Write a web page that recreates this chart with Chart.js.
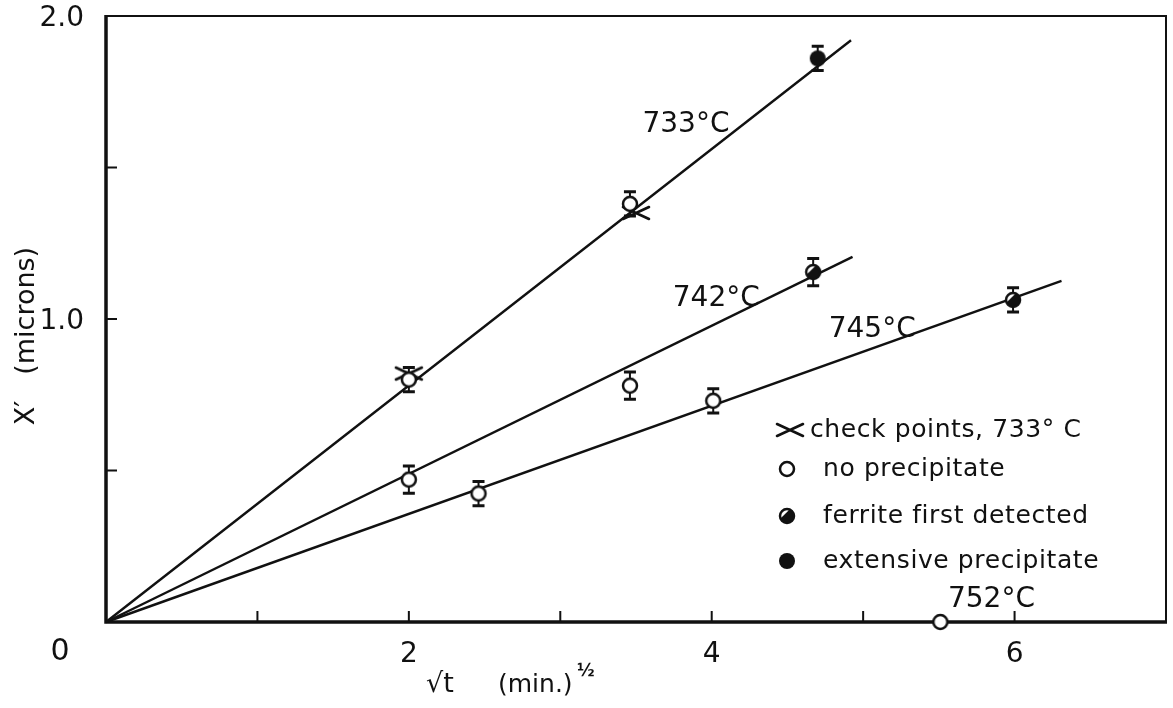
<!DOCTYPE html>
<html>
<head>
<meta charset="utf-8">
<script src="https://cdn.jsdelivr.net/npm/chart.js@4.4.1/dist/chart.umd.min.js"></script>
<style>
  html, body { margin: 0; padding: 0; background: #fff; }
  #wrap { width: 1173px; height: 708px; }
</style>
</head>
<body>
<div id="wrap"><canvas id="growthChart"></canvas></div>
<script>
// x' thickness (microns) against root time, (min)^1/2
const noPrecipX = [2.0, 3.46, 2.0, 3.46, 2.46, 4.01, 5.51];
const noPrecipY = [0.80, 1.38, 0.47, 0.78, 0.424, 0.73, 0.0];
const noPrecipErr = [0.04, 0.04, 0.045, 0.045, 0.04, 0.04, 0];

const ferriteX = [4.67, 5.99];
const ferriteY = [1.155, 1.063];
const ferriteErr = [0.045, 0.04];

const extensiveX = [4.7];
const extensiveY = [1.86];
const extensiveErr = [0.04];

const checkX = [2.0, 3.5];
const checkY = [0.82, 1.35];

// straight lines through the origin, one per temperature
const fitTemps = ['733°C', '742°C', '745°C'];
const fitEndX = [4.92, 4.93, 6.31];
const fitEndY = [1.92, 1.205, 1.126];
const fitLabelX = [3.83, 4.03, 5.06];
const fitLabelY = [1.64, 1.066, 0.964];

const extraLabel = '752°C';
const extraLabelX = 5.56;
const extraLabelY = 0.075;

const yTickValues = [1, 2];
const yTickText = ['1.0', '2.0'];
const xTickValues = [2, 4, 6];
const xTickText = ['2', '4', '6'];

const legendItems = ['check points, 733° C', 'no precipitate', 'ferrite first detected', 'extensive precipitate'];

const INK = '#111';
const FONT = '"DejaVu Sans", "Liberation Sans", sans-serif';

function toPoints(xs, ys) {
    return xs.map((x, i) => ({ x: x, y: ys[i] }));
}

function openCircleIcon(r) {
    const c = document.createElement('canvas');
    const s = r * 2 + 6;
    c.width = s; c.height = s;
    const g = c.getContext('2d');
    g.fillStyle = '#fff';
    g.strokeStyle = INK;
    g.lineWidth = 2.5;
    g.beginPath(); g.arc(s / 2, s / 2, r, 0, Math.PI * 2); g.fill(); g.stroke();
    return c;
}

function ferriteIcon(r) {
    const c = document.createElement('canvas');
    const s = r * 2 + 6;
    c.width = s; c.height = s;
    const g = c.getContext('2d');
    const m = s / 2;
    g.fillStyle = '#fff';
    g.beginPath(); g.arc(m, m, r, 0, Math.PI * 2); g.fill();
    // dark segment, leaving a white crescent at upper left
    g.fillStyle = INK;
    g.beginPath(); g.arc(m, m, r, -Math.PI * 0.38, Math.PI * 0.88); g.closePath(); g.fill();
    g.strokeStyle = INK;
    g.lineWidth = 2.5;
    g.beginPath(); g.arc(m, m, r, 0, Math.PI * 2); g.stroke();
    return c;
}

function solidIcon(r) {
    const c = document.createElement('canvas');
    const s = r * 2 + 6;
    c.width = s; c.height = s;
    const g = c.getContext('2d');
    g.fillStyle = INK;
    g.beginPath(); g.arc(s / 2, s / 2, r + 1, 0, Math.PI * 2); g.fill();
    return c;
}

function checkIcon(w, h) {
    const c = document.createElement('canvas');
    c.width = w + 6; c.height = h + 6;
    const g = c.getContext('2d');
    g.strokeStyle = INK;
    g.lineWidth = 2.6;
    g.lineCap = 'round';
    g.beginPath();
    g.moveTo(3, 3); g.lineTo(w + 3, h + 3);
    g.moveTo(3, h + 3); g.lineTo(w + 3, 3);
    g.stroke();
    return c;
}

const openImg = openCircleIcon(7);
const ferriteImg = ferriteIcon(7);
const solidImg = solidIcon(7);
const checkImg = checkIcon(26, 12);

const fitSets = fitTemps.map((t, i) => ({
    label: t,
    type: 'line',
    data: [{ x: 0, y: 0 }, { x: fitEndX[i], y: fitEndY[i] }],
    borderColor: INK,
    borderWidth: 2.4,
    pointRadius: 0,
    showLine: true,
    fill: false,
    clip: false,
    order: 5
}));

const markerSets = [
    { label: 'no precipitate', data: toPoints(noPrecipX, noPrecipY), pointStyle: openImg, err: noPrecipErr },
    { label: 'ferrite first detected', data: toPoints(ferriteX, ferriteY), pointStyle: ferriteImg, err: ferriteErr },
    { label: 'extensive precipitate', data: toPoints(extensiveX, extensiveY), pointStyle: solidImg, err: extensiveErr },
    { label: 'check points', data: toPoints(checkX, checkY), pointStyle: checkImg, err: null }
].map(d => Object.assign(d, { showLine: false, clip: false, order: 1, pointRadius: 8, pointHoverRadius: 8 }));

const decor = {
    id: 'decor',
    beforeDatasetsDraw(chart) {
        const ctx = chart.ctx;
        const a = chart.chartArea;
        const xs = chart.scales.x, ys = chart.scales.y;
        ctx.save();
        ctx.strokeStyle = INK;
        ctx.lineCap = 'butt';
        // frame: heavy left and bottom, lighter top and right
        ctx.lineWidth = 2;
        ctx.beginPath();
        ctx.moveTo(a.left, a.top); ctx.lineTo(a.right, a.top); ctx.lineTo(a.right, a.bottom);
        ctx.stroke();
        ctx.lineWidth = 3.5;
        ctx.beginPath();
        ctx.moveTo(a.left, a.top - 1); ctx.lineTo(a.left, a.bottom); ctx.lineTo(a.right + 1, a.bottom);
        ctx.stroke();
        // inward tick marks
        ctx.lineWidth = 2;
        ctx.beginPath();
        xs.ticks.forEach(t => {
            if (t.value <= xs.min || t.value >= xs.max) return;
            const px = xs.getPixelForValue(t.value);
            ctx.moveTo(px, a.bottom); ctx.lineTo(px, a.bottom - 11);
        });
        ys.ticks.forEach(t => {
            if (t.value <= ys.min || t.value >= ys.max) return;
            const py = ys.getPixelForValue(t.value);
            ctx.moveTo(a.left, py); ctx.lineTo(a.left + 11, py);
        });
        ctx.stroke();
        // error bars with caps
        ctx.lineWidth = 2;
        markerSets.forEach(ds => {
            if (!ds.err) return;
            ds.data.forEach((p, i) => {
                const e = ds.err[i];
                if (!e) return;
                const px = xs.getPixelForValue(p.x);
                const top = ys.getPixelForValue(p.y + e);
                const bot = ys.getPixelForValue(p.y - e);
                ctx.beginPath();
                ctx.moveTo(px, top); ctx.lineTo(px, bot);
                ctx.stroke();
                ctx.lineWidth = 3;
                ctx.beginPath();
                ctx.moveTo(px - 6, top); ctx.lineTo(px + 6, top);
                ctx.moveTo(px - 6, bot); ctx.lineTo(px + 6, bot);
                ctx.stroke();
                ctx.lineWidth = 2;
            });
        });
        ctx.restore();
    },
    afterDraw(chart) {
        const ctx = chart.ctx;
        const a = chart.chartArea;
        const xs = chart.scales.x, ys = chart.scales.y;
        ctx.save();
        ctx.fillStyle = INK;

        // tick numbers
        ctx.font = '28px ' + FONT;
        ctx.textAlign = 'right';
        ctx.textBaseline = 'middle';
        yTickValues.forEach((v, i) => {
            ctx.fillText(yTickText[i], a.left - 22, ys.getPixelForValue(v) + 3);
        });
        ctx.textAlign = 'center';
        xTickValues.forEach((v, i) => {
            ctx.fillText(xTickText[i], xs.getPixelForValue(v), a.bottom + 33);
        });
        // shared origin label
        ctx.font = '30px ' + FONT;
        ctx.fillText('0', a.left - 46, a.bottom + 30);

        // temperature labels beside each line
        ctx.font = '28px ' + FONT;
        fitTemps.forEach((t, i) => {
            ctx.fillText(t, xs.getPixelForValue(fitLabelX[i]), ys.getPixelForValue(fitLabelY[i]));
        });
        ctx.textAlign = 'left';
        ctx.fillText(extraLabel, xs.getPixelForValue(extraLabelX), ys.getPixelForValue(extraLabelY));

        // axis titles
        ctx.font = '27px ' + FONT;
        ctx.save();
        ctx.translate(27, 336);
        ctx.rotate(-Math.PI / 2);
        ctx.textAlign = 'center';
        ctx.fillText('X′   (microns)', 0, 0);
        ctx.restore();

        ctx.textAlign = 'left';
        ctx.textBaseline = 'alphabetic';
        ctx.font = '27px ' + FONT;
        const base = 692;
        ctx.fillText('√t', 426, base);
        ctx.font = '25px ' + FONT;
        ctx.fillText('(min.)', 498, base);
        ctx.font = 'bold 17px ' + FONT;
        ctx.fillText('½', 577, base - 16);

        // legend block
        const rowsY = [430, 469, 516, 561];
        const icons = [checkImg, openImg, ferriteImg, solidImg];
        ctx.font = '25px ' + FONT;
        ctx.letterSpacing = '0.6px';
        ctx.textBaseline = 'middle';
        legendItems.forEach((txt, i) => {
            const img = icons[i];
            const cx = i === 0 ? 790 : 787;
            ctx.drawImage(img, cx - img.width / 2, rowsY[i] - img.height / 2);
            ctx.fillText(txt, i === 0 ? 810 : 823, rowsY[i]);
        });
        ctx.restore();
    }
};

new Chart(document.getElementById('growthChart'), {
    type: 'scatter',
    data: { datasets: fitSets.concat(markerSets) },
    options: {
        responsive: true,
        maintainAspectRatio: false,
        animation: false,
        layout: { autoPadding: false, padding: { top: 16, right: 7, left: 0, bottom: 0 } },
        plugins: {
            legend: { display: false },
            tooltip: { enabled: false }
        },
        scales: {
            x: {
                type: 'linear',
                min: 0,
                max: 7,
                afterFit: s => { s.height = 86; },
                grid: { display: false, drawTicks: false },
                border: { display: false },
                ticks: { display: false, stepSize: 1, autoSkip: false }
            },
            y: {
                type: 'linear',
                min: 0,
                max: 2,
                afterFit: s => { s.width = 106; },
                grid: { display: false, drawTicks: false },
                border: { display: false },
                ticks: { display: false, stepSize: 0.5, autoSkip: false }
            }
        }
    },
    plugins: [decor]
});
</script>
</body>
</html>
